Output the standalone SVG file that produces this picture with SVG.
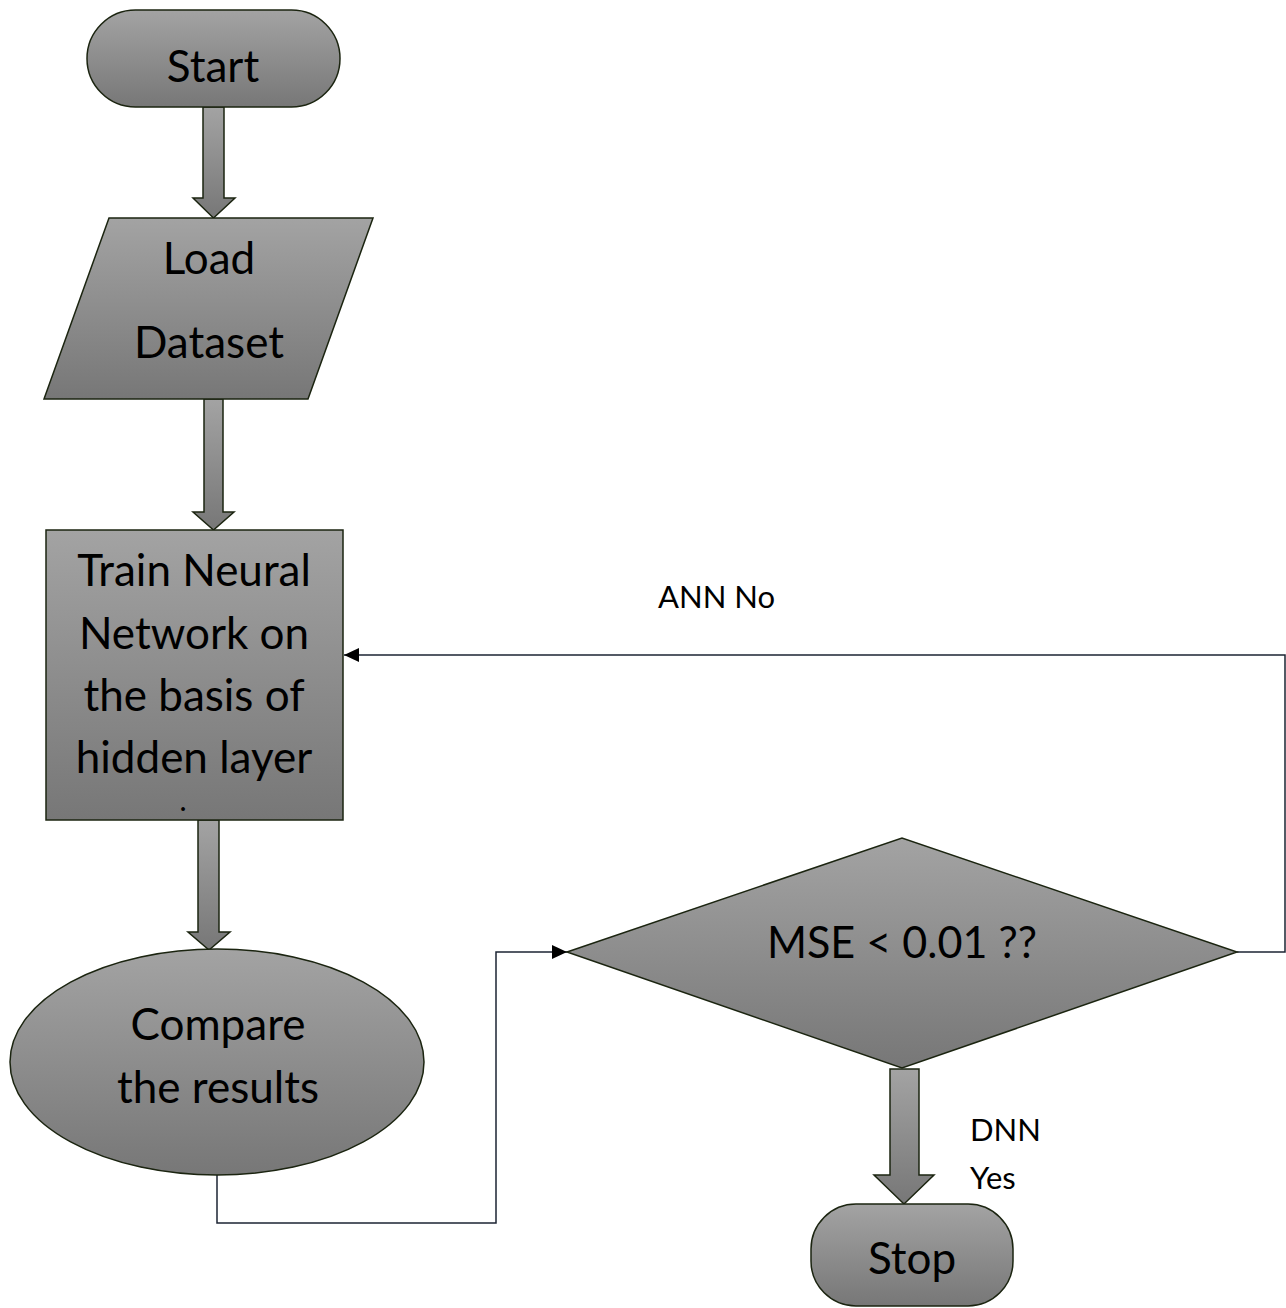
<svg xmlns="http://www.w3.org/2000/svg" width="1286" height="1308" viewBox="0 0 1286 1308">
  <defs>
    <linearGradient id="shade" x1="0" y1="0" x2="0" y2="1">
      <stop offset="0" stop-color="#a3a3a3"/>
      <stop offset="1" stop-color="#777777"/>
    </linearGradient>
    <marker id="tip" markerUnits="userSpaceOnUse" markerWidth="16" markerHeight="14" refX="15" refY="7" orient="auto">
      <path d="M0,0 L15,7 L0,14 Z" fill="#000"/>
    </marker>
    <style>
      .shape { fill: url(#shade); stroke: #1b2410; stroke-width: 1.5; }
      .block { fill: url(#shade); stroke: #1b2410; stroke-width: 1.5; stroke-linejoin: miter; }
      .label { font-family: Lato, "Liberation Sans", sans-serif; font-size: 44px; fill: #000; text-anchor: middle; }
      .note { font-family: Lato, "Liberation Sans", sans-serif; font-size: 31px; fill: #000; }
      .line { fill: none; stroke: #1c2433; stroke-width: 1.5; }
    </style>
  </defs>

  <rect width="1286" height="1308" fill="#fff"/>

  <!-- connectors -->
  <g id="connectors">
    <!-- block arrows between the steps -->
    <path class="block" d="M203,107 H224 V198 H235 L213.5,218 L193,198 H203 Z"/>
    <path class="block" d="M204,399 H223 V512 H234 L213.5,530 L193,512 H204 Z"/>
    <path class="block" d="M198,820 H219 V932 H230 L209,950 L188,932 H198 Z"/>
    <path class="block" d="M890,1069 H919 V1175 H934 L904,1204 L874,1175 H890 Z"/>
    <!-- compare -> decision -->
    <path class="line" d="M217,1175 V1223 H496 V952 H567" marker-end="url(#tip)"/>
    <!-- decision "no" loop back to training -->
    <path class="line" d="M1237,952 H1285 V655 H344" marker-end="url(#tip)"/>
    <text class="note" x="658" y="608">ANN No</text>
    <text class="note" x="970" y="1141">DNN</text>
    <text class="note" x="970" y="1189">Yes</text>
  </g>

  <g id="start">
    <rect class="shape" x="87" y="10" width="253" height="97" rx="48.5" ry="48.5"/>
    <text class="label" x="213" y="82">Start</text>
  </g>

  <g id="load-dataset">
    <polygon class="shape" points="109,218 373,218 308,399 44,399"/>
    <text class="label" x="209" y="274">Load</text>
    <text class="label" x="209" y="358">Dataset</text>
  </g>

  <g id="train">
    <rect class="shape" x="46" y="530" width="297" height="290"/>
    <text class="label" x="194" y="586">Train Neural</text>
    <text class="label" x="194" y="649">Network on</text>
    <text class="label" x="194" y="711">the basis of</text>
    <text class="label" x="194" y="773">hidden layer</text>
    <text class="label" x="183" y="811" style="font-size:30px">.</text>
  </g>

  <g id="compare">
    <ellipse class="shape" cx="217" cy="1062" rx="207" ry="113"/>
    <text class="label" x="218" y="1040">Compare</text>
    <text class="label" x="218" y="1103">the results</text>
  </g>

  <g id="decision">
    <polygon class="shape" points="567,952 902,838 1237,952 902,1068"/>
    <text class="label" x="902" y="958" textLength="270" lengthAdjust="spacingAndGlyphs">MSE &lt; 0.01 ??</text>
  </g>

  <g id="stop">
    <rect class="shape" x="811" y="1204" width="202" height="102" rx="45" ry="45"/>
    <text class="label" x="912" y="1274">Stop</text>
  </g>
</svg>
